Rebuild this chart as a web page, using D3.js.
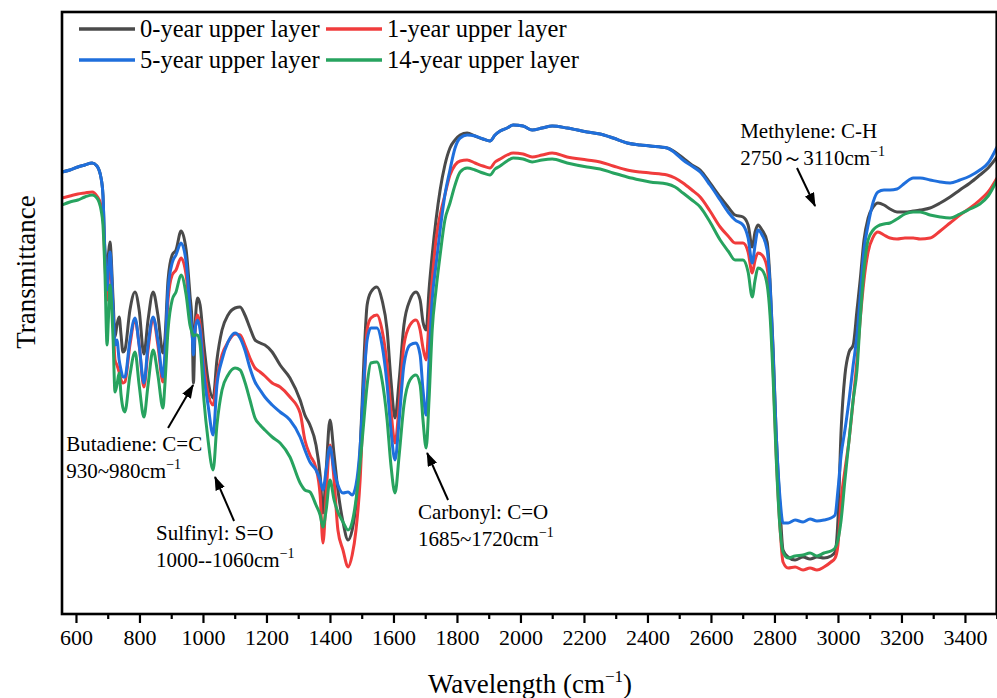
<!DOCTYPE html>
<html>
<head>
<meta charset="utf-8">
<script src="https://cdn.jsdelivr.net/npm/d3@7"></script>
<style>
  body { margin: 0; background: #fff; }
  text { font-family: "Liberation Serif", "Times New Roman", "DejaVu Serif", serif; fill: #000; }
</style>
</head>
<body>
<svg id="chart" width="997" height="698"></svg>
<script>
// FTIR spectra of the upper layer after different ageing times (transmittance, arbitrary units)
const wavenumber = [556,581,606,628,651,666,679,685,691,698,702,707,717,723,729,736,742,748,754,770,786,799,814,827,843,858,874,880,890,903,915,931,947,959,966,970,975,983,991,1003,1016,1032,1044,1060,1079,1101,1117,1132,1148,1164,1180,1195,1218,1243,1274,1306,1321,1337,1356,1369,1378,1388,1400,1413,1425,1441,1457,1470,1482,1495,1507,1517,1529,1548,1564,1580,1592,1605,1618,1633,1652,1671,1684,1693,1703,1712,1722,1734,1747,1762,1778,1794,1810,1832,1857,1882,1904,1920,1936,1958,1977,2008,2037,2068,2100,2147,2210,2251,2292,2336,2377,2408,2462,2487,2512,2540,2566,2597,2629,2654,2676,2701,2717,2730,2739,2748,2761,2777,2786,2796,2805,2818,2827,2843,2865,2890,2912,2934,2956,2978,2991,3000,3010,3022,3035,3048,3060,3070,3082,3095,3111,3126,3145,3164,3186,3211,3237,3259,3290,3322,3353,3384,3416,3447,3473,3501];

const year0 = [44.2,44.4,44.7,44.9,45.1,44.8,43.6,41.9,36.4,34.9,35.9,37.2,31.4,27.7,28.9,29.7,27.9,26.2,26.4,30.4,32.2,30.4,26.0,29.4,32.2,29.9,26.1,27.4,33.4,35.9,36.4,38.3,36.4,31.9,28.9,23.1,28.4,31.6,30.9,26.9,23.4,21.6,25.4,28.4,29.9,30.6,30.7,29.9,28.6,27.4,27.1,26.9,26.2,24.9,23.6,21.4,19.9,18.9,16.9,13.9,10.1,14.4,19.4,15.9,12.4,9.2,7.4,8.4,10.9,16.4,25.4,30.9,32.2,32.7,31.4,28.4,23.4,19.6,23.4,28.9,31.4,32.2,31.4,29.2,28.4,32.4,35.9,39.4,42.4,44.9,46.6,47.4,47.9,48.1,47.8,47.5,47.3,47.9,48.3,48.6,48.9,48.8,48.4,48.6,48.8,48.6,48.2,48.0,47.6,47.1,46.9,46.8,46.6,46.2,45.6,44.9,44.4,43.1,41.7,40.7,39.9,39.7,38.9,36.7,38.2,38.9,38.4,37.2,33.4,26.4,18.4,10.4,6.4,5.7,5.4,5.7,5.5,5.7,5.6,5.8,6.2,9.4,18.4,23.9,26.2,26.9,30.4,33.4,37.4,39.6,40.7,41.1,40.9,40.5,40.2,40.2,40.3,40.4,40.6,41.1,41.7,42.4,43.1,43.9,44.6,45.7];

const year1 = [41.6,41.8,42.0,42.1,42.2,41.8,40.9,39.9,35.4,31.4,33.4,35.6,29.4,25.4,24.9,24.2,23.4,23.1,23.2,26.9,29.4,26.9,22.7,26.4,29.6,26.9,23.2,25.4,31.4,33.9,34.4,35.6,33.9,29.9,27.9,26.9,28.4,29.9,28.9,24.9,22.1,20.9,23.6,25.9,27.2,28.0,27.9,26.9,25.6,24.6,24.2,23.8,23.1,22.7,21.7,20.1,17.4,15.9,14.6,11.9,7.1,11.9,16.9,13.4,8.4,6.4,4.7,5.9,8.4,13.4,22.4,28.4,29.6,29.9,28.4,24.9,20.4,17.1,20.9,26.9,28.9,29.4,28.4,26.6,25.4,29.4,33.4,37.4,39.9,41.9,43.9,44.9,45.3,45.4,45.1,44.8,44.6,45.2,45.5,45.9,46.1,46.0,45.7,45.9,46.1,45.7,45.4,45.2,44.8,44.4,44.2,44.1,43.9,43.6,43.1,42.4,41.7,40.3,38.7,37.8,37.1,37.1,36.2,34.1,35.4,36.1,35.9,34.6,31.4,24.4,16.4,8.4,5.2,4.6,4.7,4.4,4.6,4.4,4.7,5.2,5.6,6.9,11.4,14.4,17.4,21.4,25.4,29.4,33.4,36.2,37.7,38.2,37.9,37.6,37.5,37.6,37.6,37.5,37.6,38.3,39.1,39.9,40.6,41.4,42.2,43.6];

const year5 = [44.2,44.4,44.7,44.9,45.1,44.8,43.6,41.9,36.4,32.4,34.4,36.2,30.4,26.9,27.4,25.4,24.4,23.7,23.7,27.4,29.6,26.9,23.1,26.9,29.7,27.4,23.7,25.9,32.4,35.1,35.9,37.1,35.2,30.4,27.9,25.9,28.4,29.4,28.4,23.9,20.9,17.9,22.9,25.4,27.2,28.1,27.6,26.4,24.6,23.2,22.4,21.7,20.9,20.2,19.4,17.7,16.4,15.2,14.4,13.4,12.4,14.4,16.7,14.4,12.9,12.1,12.2,11.9,12.9,16.7,23.4,27.4,28.6,28.6,26.9,22.9,18.4,15.4,19.4,24.9,26.9,27.1,25.9,22.4,19.9,25.4,31.4,34.9,38.4,41.9,44.4,46.6,47.6,47.9,47.8,47.5,47.3,47.9,48.3,48.6,48.9,48.8,48.4,48.6,48.8,48.6,48.2,48.0,47.6,47.1,46.9,46.8,46.6,46.1,45.4,44.8,44.2,42.9,41.4,40.2,39.4,38.9,37.6,35.1,36.9,38.4,37.9,36.4,32.9,25.9,18.4,11.4,9.1,9.1,9.4,9.2,9.5,9.3,9.4,9.6,9.9,12.4,15.9,18.4,21.4,24.9,27.9,31.7,36.4,38.9,41.2,42.2,42.4,42.4,42.5,43.1,43.6,43.6,43.4,43.2,43.1,43.4,43.8,44.4,45.1,46.7];

const year14 = [40.9,41.2,41.4,41.7,41.9,41.6,40.4,38.9,34.4,26.9,29.4,32.9,27.4,22.2,22.9,24.1,21.9,20.6,20.2,23.9,26.2,22.9,19.7,22.9,26.4,23.9,20.6,22.9,28.4,31.4,32.2,33.9,31.9,28.9,28.1,27.8,27.9,27.9,26.9,21.4,17.4,14.4,18.9,22.4,23.9,24.6,24.4,23.2,21.4,19.6,18.9,18.4,17.7,17.1,15.7,13.1,12.4,12.2,10.9,9.9,8.7,10.4,13.4,11.4,10.2,9.2,8.4,9.2,11.4,15.1,19.4,22.9,25.1,25.2,23.4,19.4,14.9,12.1,15.9,20.9,23.4,23.9,22.9,19.4,16.6,21.4,28.4,32.4,35.9,39.4,41.1,42.9,44.2,44.6,44.4,44.1,43.9,44.5,44.8,45.3,45.6,45.5,45.2,45.4,45.5,45.1,44.7,44.5,44.1,43.7,43.4,43.2,43.0,42.7,42.1,41.4,40.7,39.2,37.4,36.3,35.4,35.4,34.2,31.7,33.4,34.6,34.4,32.9,29.9,23.4,15.9,8.4,6.2,5.6,5.8,5.9,6.1,5.8,6.1,6.3,6.6,7.4,9.4,13.4,17.4,21.4,24.4,29.4,34.4,37.4,38.4,38.8,39.0,39.1,39.5,40.0,40.2,40.2,39.9,39.7,39.6,40.0,40.5,41.0,41.8,43.4];

const seriesNames = ["0-year upper layer", "1-year upper layer", "5-year upper layer", "14-year upper layer"];
const seriesValues = [year0, year1, year5, year14];
const seriesColors = ["#4a4a4a", "#f03c3c", "#1f6fdc", "#27a35f"];

const xMajorTicks = d3.range(600, 3401, 200);
const xMinorTicks = d3.range(700, 3501, 200);

// Band annotations: label lines, arrow tail and arrow tip (wavenumber, transmittance)
const bandLabels = [
  { lines: ["Butadiene: C=C", "930~980"], label: [569, 16.3], tail: [890, 18.6], tip: [969, 22.9] },
  { lines: ["Sulfinyl: S=O", "1000--1060"], label: [852, 7.4], tail: [1098, 9.3], tip: [1038, 13.7] },
  { lines: ["Carbonyl: C=O", "1685~1720"], label: [1677, 9.5], tail: [1772, 11.4], tip: [1706, 16.1] },
  { lines: ["Methylene: C-H", "2750～3110"], label: [2692, 47.6], tail: [2871, 44.6], tip: [2928, 40.8] }
];

const plot = { left: 62, top: 12, right: 996.7, bottom: 614 };

const svg = d3.select("#chart");

const x = d3.scaleLinear().domain([556, 3500]).range([plot.left, plot.right]);
const y = d3.scaleLinear().domain([0, 60.2]).range([plot.bottom, plot.top]);

const defs = svg.append("defs");
defs.append("clipPath").attr("id", "plot-clip")
  .append("rect")
  .attr("x", plot.left).attr("y", plot.top)
  .attr("width", plot.right - plot.left).attr("height", plot.bottom - plot.top);

defs.append("marker")
  .attr("id", "arrowhead")
  .attr("viewBox", "0 0 14 10")
  .attr("refX", 13).attr("refY", 5)
  .attr("markerWidth", 14).attr("markerHeight", 10)
  .attr("markerUnits", "userSpaceOnUse")
  .attr("orient", "auto")
  .append("path").attr("d", "M0,0 L14,5 L0,10 Z").attr("fill", "#000");

// Spectra
const line = d3.line()
  .x((d, i) => x(wavenumber[i]))
  .y(d => y(d))
  .curve(d3.curveMonotoneX);

svg.append("g").attr("clip-path", "url(#plot-clip)")
  .selectAll("path")
  .data(seriesValues)
  .join("path")
  .attr("d", d => line(d))
  .attr("fill", "none")
  .attr("stroke", (d, i) => seriesColors[i])
  .attr("stroke-width", 3)
  .attr("stroke-linejoin", "round");

// Bottom axis ticks
const xAxis = svg.append("g")
  .attr("transform", `translate(0,${plot.bottom})`)
  .call(d3.axisBottom(x).tickValues(xMajorTicks).tickSize(9).tickPadding(6).tickFormat(d3.format("d")));
xAxis.select(".domain").remove();
xAxis.selectAll("line").attr("stroke", "#000").attr("stroke-width", 2.2);
xAxis.selectAll("text").attr("font-size", 22);

const xMinor = svg.append("g")
  .attr("transform", `translate(0,${plot.bottom})`)
  .call(d3.axisBottom(x).tickValues(xMinorTicks).tickSize(5).tickFormat(""));
xMinor.select(".domain").remove();
xMinor.selectAll("line").attr("stroke", "#000").attr("stroke-width", 2.2);

// Frame
svg.append("rect")
  .attr("x", plot.left).attr("y", plot.top)
  .attr("width", plot.right - plot.left).attr("height", plot.bottom - plot.top)
  .attr("fill", "none").attr("stroke", "#000").attr("stroke-width", 2.6);

// Axis titles
const xTitle = svg.append("text")
  .attr("x", 530).attr("y", 693)
  .attr("text-anchor", "middle")
  .attr("font-size", 27);
xTitle.append("tspan").text("Wavelength (cm");
xTitle.append("tspan").attr("font-size", 17).attr("dy", -11).text("−1");
xTitle.append("tspan").attr("dy", 11).text(")");

svg.append("text")
  .attr("transform", "translate(35,272) rotate(-90)")
  .attr("text-anchor", "middle")
  .attr("font-size", 27)
  .text("Transmittance");

// Legend
const legendItems = [
  { i: 0, col: 0, row: 0 }, { i: 1, col: 1, row: 0 },
  { i: 2, col: 0, row: 1 }, { i: 3, col: 1, row: 1 }
];
const legend = svg.append("g");
legendItems.forEach(item => {
  const lx = item.col === 0 ? 79 : 326;
  const ly = item.row === 0 ? 29 : 60;
  legend.append("line")
    .attr("x1", lx).attr("x2", lx + 56)
    .attr("y1", ly).attr("y2", ly)
    .attr("stroke", seriesColors[item.i]).attr("stroke-width", 3.4);
  legend.append("text")
    .attr("x", lx + 61).attr("y", ly + 8)
    .attr("font-size", 24.5)
    .text(seriesNames[item.i]);
});

// Band annotations with arrows
const notes = svg.append("g");
bandLabels.forEach(b => {
  notes.append("line")
    .attr("x1", x(b.tail[0])).attr("y1", y(b.tail[1]))
    .attr("x2", x(b.tip[0])).attr("y2", y(b.tip[1]))
    .attr("stroke", "#000").attr("stroke-width", 2)
    .attr("marker-end", "url(#arrowhead)");
  const tx = x(b.label[0]), ty = y(b.label[1]);
  notes.append("text").attr("x", tx).attr("y", ty).attr("font-size", 21).text(b.lines[0]);
  const t2 = notes.append("text").attr("x", tx).attr("y", ty + 27).attr("font-size", 21);
  t2.append("tspan").text(b.lines[1] + "cm");
  t2.append("tspan").attr("font-size", 14).attr("dy", -9).text("−1");
});
</script>
</body>
</html>
